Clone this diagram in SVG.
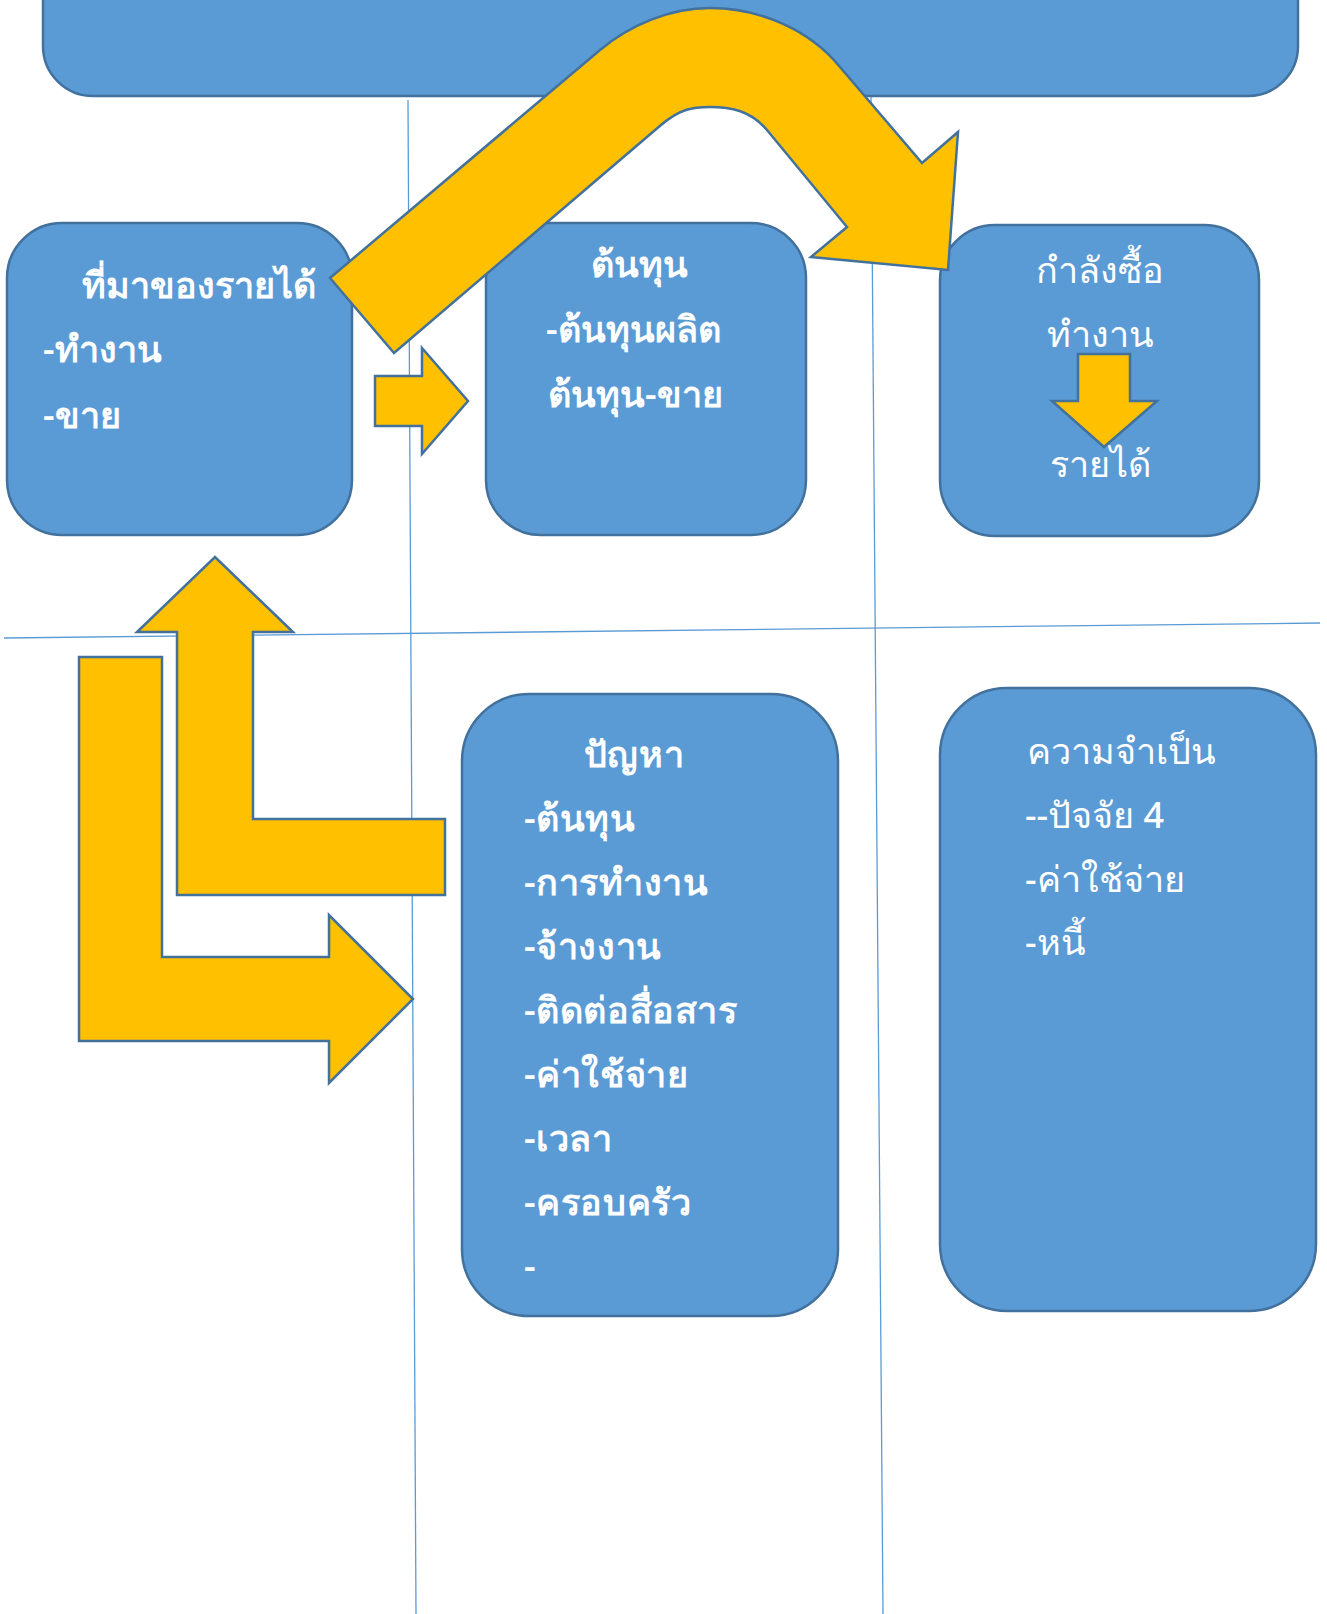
<svg xmlns="http://www.w3.org/2000/svg" width="1327" height="1614" viewBox="0 0 1327 1614">
<style>
.box{fill:#5B9BD5;stroke:#41719C;stroke-width:2.5}
.arrow{fill:#FFC000;stroke:#41719C;stroke-width:2.5;stroke-linejoin:miter}
.grid{stroke:#5B9BD5;stroke-width:1.3;fill:none}
.t{font-family:"Noto Sans",sans-serif;font-size:36px;fill:#FFFFFF;font-weight:500}
.b{font-weight:600}
.ls{letter-spacing:0.6px}
.m{text-anchor:middle}
</style>
<rect width="1327" height="1614" fill="#FFFFFF"/>
<g id="top-box">
<rect class="box" x="43" y="-60" width="1255" height="156" rx="50" ry="50"/>
</g>
<g id="grid-lines">
<line class="grid" x1="408" y1="100" x2="416" y2="1614"/>
<line class="grid" x1="871" y1="97" x2="883" y2="1614"/>
<line class="grid" x1="4" y1="638" x2="1320" y2="623"/>
</g>
<g id="node-income">
<rect class="box" x="7" y="223" width="345" height="312" rx="55" ry="55"/>
<text class="t b" x="82" y="298">ที่มาของรายได้</text>
<text class="t b" x="43" y="362">-ทำงาน</text>
<text class="t b" x="43" y="428">-ขาย</text>
</g>
<g id="node-cost">
<rect class="box" x="486" y="223" width="320" height="312" rx="55" ry="55"/>
<text class="t b m" x="639" y="277">ต้นทุน</text>
<text class="t b" x="546" y="342">-ต้นทุนผลิต</text>
<text class="t b" x="548" y="407">ต้นทุน-ขาย</text>
</g>
<g id="node-power">
<rect class="box" x="940" y="225" width="319" height="311" rx="55" ry="55"/>
<text class="t m" x="1100" y="283">กำลังซื้อ</text>
<text class="t m" x="1100" y="347">ทำงาน</text>
<text class="t m" x="1100" y="477">รายได้</text>
</g>
<g id="node-problem">
<rect class="box" x="462" y="694" width="376" height="622" rx="67" ry="67"/>
<text class="t b m ls" x="634" y="767">ปัญหา</text>
<text class="t b ls" x="524" y="831">-ต้นทุน</text>
<text class="t b ls" x="524" y="895">-การทำงาน</text>
<text class="t b ls" x="524" y="959">-จ้างงาน</text>
<text class="t b ls" x="524" y="1023">-ติดต่อสื่อสาร</text>
<text class="t b ls" x="524" y="1087">-ค่าใช้จ่าย</text>
<text class="t b ls" x="524" y="1151">-เวลา</text>
<text class="t b ls" x="524" y="1215">-ครอบครัว</text>
<text class="t b ls" x="524" y="1279">-</text>
</g>
<g id="node-need">
<rect class="box" x="940" y="688" width="376" height="623" rx="67" ry="67"/>
<text class="t" x="1027" y="764">ความจำเป็น</text>
<text class="t" x="1025" y="828">--ปัจจัย 4</text>
<text class="t" x="1025" y="892">-ค่าใช้จ่าย</text>
<text class="t" x="1025" y="955">-หนี้</text>
</g>
<g id="connectors">
<path class="arrow" d="M 330,278 L 600,50 C 630,25 670,8 710,8 C 760,8 810,30 840,67 L 922,163 L 958,132 L 948,270 L 811,257 L 847,227 L 767,130 C 750,110 730,107 710,107 C 692,107 680,109 661,125 L 394,353 Z"/>
<path class="arrow" d="M 375,376 L 422,376 L 422,348 L 468,401 L 422,454 L 422,426 L 375,426 Z"/>
<path class="arrow" d="M 1078,354 L 1130,354 L 1130,401 L 1157,401 L 1104,447 L 1052,401 L 1078,401 Z"/>
<path class="arrow" d="M 445,819 L 253,819 L 253,632 L 293,632 L 215,557 L 137,632 L 177,632 L 177,895 L 445,895 Z"/>
<path class="arrow" d="M 79,657 L 162,657 L 162,957 L 329,957 L 329,915 L 413,999 L 329,1083 L 329,1041 L 79,1041 Z"/>
</g>
</svg>
